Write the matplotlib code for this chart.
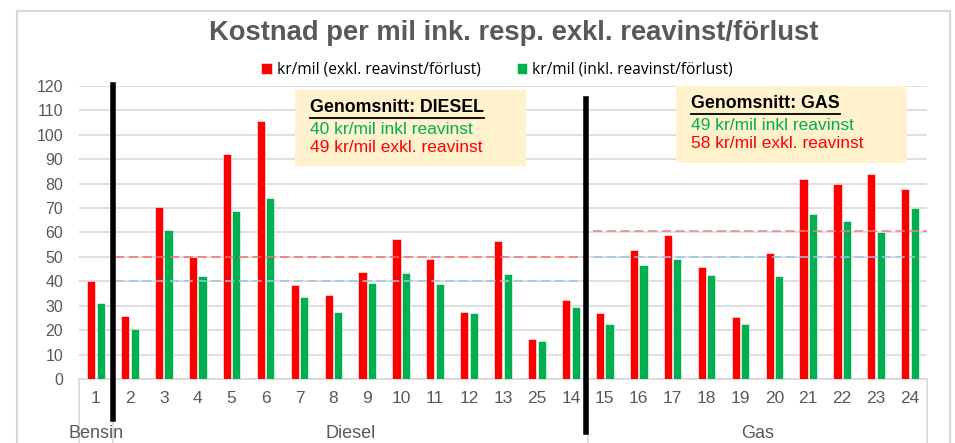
import numpy as np
import matplotlib.pyplot as plt
from matplotlib.patches import Rectangle
from matplotlib.lines import Line2D

# bilnummer i ordning som i diagrammet
kategorier = ["1", "2", "3", "4", "5", "6", "7", "8", "9", "10", "11", "12", "13", "25", "14",
              "15", "16", "17", "18", "19", "20", "21", "22", "23", "24"]
exkl = [40, 26, 70.5, 50, 92, 105.5, 38.5, 34.5, 44, 57.5, 49, 27.5, 56.5, 16.5, 32.5,
        27, 53, 59, 46, 25.5, 51.5, 82, 80, 84, 78]
inkl = [31, 20.5, 61, 42, 69, 74, 33.5, 27.5, 39.5, 43.5, 39, 27, 43, 15.5, 29.5,
        22.5, 46.5, 49, 42.5, 22.5, 42, 67.5, 64.5, 60, 70]
grupper = ["Bensin", "Diesel", "Gas"]
grupp_storlek = [1, 14, 10]
snitt_diesel = (50, 40)   # dragna linjer (exkl, inkl)
snitt_gas = (60.5, 50)

ROD = "#FF0000"
GRON = "#00B050"
GRA = "#595959"

fig = plt.figure(figsize=(9.55, 4.43), dpi=100)
ax = fig.add_axes([0.0827, 0.1445, 0.888, 0.6614])

x = np.arange(len(kategorier))
ax.bar(x - 0.14, exkl, 0.24, color=ROD, edgecolor="white", linewidth=0.4,
       label="kr/mil (exkl. reavinst/förlust)", zorder=3)
ax.bar(x + 0.14, inkl, 0.24, color=GRON, edgecolor="white", linewidth=0.4,
       label="kr/mil (inkl. reavinst/förlust)", zorder=3)

ax.set_xlim(-0.5, len(kategorier) - 0.5)
ax.set_ylim(0, 120)
ax.set_yticks(range(0, 121, 10))
ax.grid(axis="y", color="#D9D9D9", linewidth=1.2, zorder=0)
for s in ["top", "right", "left"]:
    ax.spines[s].set_visible(False)
ax.spines["bottom"].set_color("#D9D9D9")
ax.spines["bottom"].set_linewidth(1.2)
ax.tick_params(axis="y", length=0, labelsize=11.5, labelcolor=GRA, pad=11.5)
ax.set_xticks(x)
ax.set_xticklabels(kategorier)
ax.tick_params(axis="x", length=0, labelsize=12.5, labelcolor=GRA, pad=9)
for t in ax.get_yticklabels() + ax.get_xticklabels():
    t.set_fontfamily("Liberation Sans")

# gruppgränser
b1 = grupp_storlek[0] - 0.5
b2 = grupp_storlek[0] + grupp_storlek[1] - 0.5
end = len(kategorier) - 0.5

# medelvärdeslinjer
ax.plot([b1 + 0.05, b2 - 0.05], [snitt_diesel[0]] * 2, ls=(0, (6, 3)), color="#F07070", lw=1.1, zorder=4)
ax.plot([b1 + 0.05, b2 - 0.05], [snitt_diesel[1]] * 2, ls=(0, (6, 3)), color="#9DC3E6", lw=1.1, zorder=4)
ax.plot([b2 + 0.15, end], [snitt_gas[0]] * 2, ls=(0, (6, 3)), color="#F08080", lw=1.1, zorder=4)
ax.plot([b2 + 0.15, end - 0.35], [snitt_gas[1]] * 2, ls=(0, (6, 3)), color="#9DC3E6", lw=1.1, zorder=4)

# kategoritabell under axeln
trans = ax.get_xaxis_transform()
for xv in [-0.5, b1, b2, end]:
    ax.add_line(Line2D([xv, xv], [0, -0.3], transform=trans, color="#D9D9D9",
                       lw=1.2, clip_on=False))
starts = np.cumsum([0] + grupp_storlek[:-1])
for g, s, n in zip(grupper, starts, grupp_storlek):
    mid = s + (n - 1) / 2
    if g == "Bensin":
        mid = s
    ax.text(mid, -0.187, g, transform=trans, ha="center", va="center", fontsize=13,
            color=GRA, family="Liberation Sans")

# svarta separatorer
ax.add_line(Line2D([b1, b1], [1.003, -0.135], transform=trans, color="black", lw=4,
                   clip_on=False, zorder=6))
ax.add_line(Line2D([b2 - 0.05, b2 - 0.05], [0.955, -0.18], transform=trans, color="black", lw=4,
                   clip_on=False, zorder=6))

# textrutor
def ruta(x0, y0, w, h, rubrik, rad1, rad2):
    fig.patches.append(Rectangle((x0 / 955, 1 - (y0 + h) / 443), w / 955, h / 443,
                                 transform=fig.transFigure, facecolor="#FFF2CC",
                                 edgecolor="none", zorder=5))
    tx = (x0 + 15) / 955
    fig.text(tx, 1 - (y0 + 18) / 443, rubrik, fontsize=12.8, fontweight="bold",
             family="Liberation Sans", va="center", zorder=6)
    r = fig.canvas.get_renderer()
    t = fig.texts[-1]
    bb = t.get_window_extent(renderer=r)
    fig.add_artist(Line2D([bb.x0 / 955, bb.x1 / 955],
                          [(bb.y0 - 1.0) / 443] * 2, color="black", lw=1.3, zorder=6))
    fig.text(tx, 1 - (y0 + 39) / 443, rad1, fontsize=12.5, color=GRON,
             family="Liberation Sans", va="center", zorder=6)
    fig.text(tx, 1 - (y0 + 57) / 443, rad2, fontsize=12.5, color=ROD,
             family="Liberation Sans", va="center", zorder=6)

ruta(295, 90, 231, 76, "Genomsnitt: DIESEL", "40 kr/mil inkl reavinst", "49 kr/mil exkl. reavinst")
ruta(676, 86, 231, 77, "Genomsnitt: GAS", "49 kr/mil inkl reavinst", "58 kr/mil exkl. reavinst")

# titel och legend
fig.text(514 / 955, 1 - 33 / 443, "Kostnad per mil ink. resp. exkl. reavinst/förlust", ha="center",
         va="center", fontsize=19.7, fontweight="bold", color=GRA, family="Liberation Sans")
ax.legend(loc="center", bbox_to_anchor=(0.493, 1.056), ncol=2, frameon=False,
          handlelength=0.7, handleheight=0.7, handletextpad=0.3,
          columnspacing=2.3, prop={"family": "Open Sans", "size": 11.2})

# yttre ram
fig.patches.append(Rectangle((17 / 955, -0.05), 933 / 955, 1 - 11 / 443 + 0.05,
                             transform=fig.transFigure, facecolor="none",
                             edgecolor="#D9D9D9", lw=1.5, zorder=0))

fig.savefig("out.png", dpi=100)
